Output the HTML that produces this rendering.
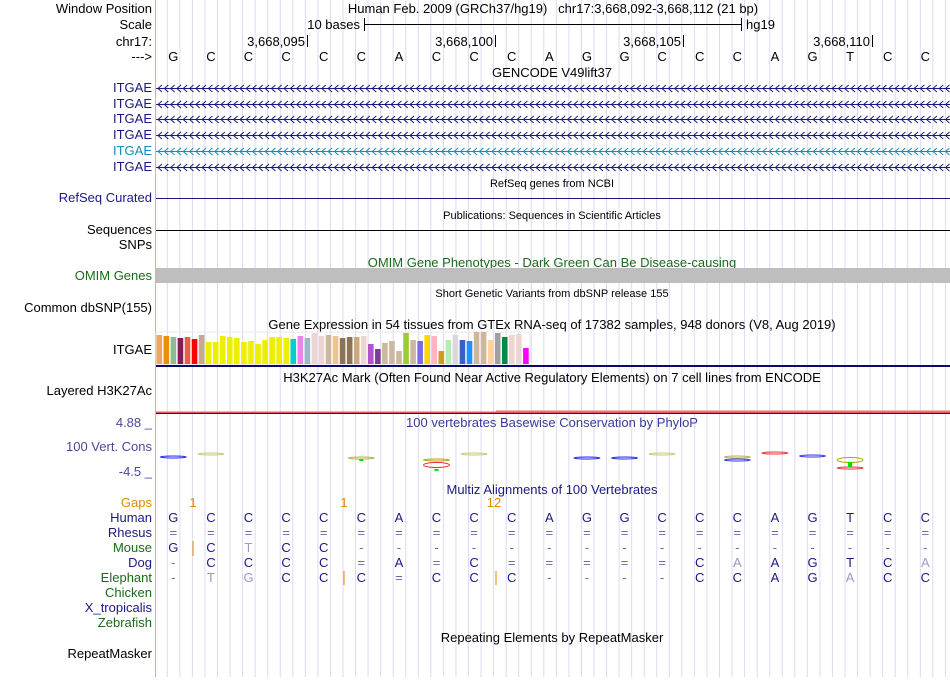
<!DOCTYPE html>
<html><head><meta charset="utf-8">
<style>
body{margin:0;background:#fff;width:950px;height:677px;overflow:hidden;font-family:"Liberation Sans",sans-serif;}
svg text{font-family:"Liberation Sans",sans-serif;}
</style></head>
<body>
<svg id="c" width="950" height="677" xmlns="http://www.w3.org/2000/svg">
<g id="grid"></g>
<line x1="155.5" y1="0" x2="155.5" y2="677" stroke="#f4a0a0"/>
<g id="labels" font-size="13" text-anchor="end"></g>
<g id="main"></g>
</svg>
<script>
const NS='http://www.w3.org/2000/svg';
const G=document.getElementById('grid'),L=document.getElementById('labels'),M=document.getElementById('main');
function mk(p,tag,attrs,txt){const e=document.createElementNS(NS,tag);for(const k in attrs)e.setAttribute(k,attrs[k]);if(txt!==undefined)e.textContent=txt;p.appendChild(e);return e;}
for(let x=167.3;x<950;x+=12.55){const l=mk(G,'line',{x1:x,x2:x,y1:0,y2:677,stroke:'#dcdaf2'});

}
const bx=i=>154.5+37.6*(i+0.5);
const labs=[["Window Position",13,"#000"],["Scale",29,"#000"],["chr17:",46,"#000"],["--->",61,"#000"],
["ITGAE",92,"#1a1a80"],["ITGAE",108,"#1a1a80"],["ITGAE",123,"#1a1a80"],["ITGAE",139,"#1a1a80"],["ITGAE",155,"#1a8ab8"],["ITGAE",171,"#1a1a80"],
["RefSeq Curated",202,"#1a1a80"],["Sequences",234,"#000"],["SNPs",249,"#000"],["OMIM Genes",280,"#1a6a1a"],["Common dbSNP(155)",312,"#000"],
["ITGAE",354,"#000"],["Layered H3K27Ac",395,"#000"],["4.88 _",427,"#4a4a9a"],["100 Vert. Cons",451,"#4a4a9a"],["-4.5 _",476,"#4a4a9a"],
["Gaps",507,"#e08a00"],["Human",522,"#1a1a80"],["Rhesus",537,"#1a1a80"],["Mouse",552,"#1a6a1a"],["Dog",567,"#1a1a80"],["Elephant",582,"#1a6a1a"],
["Chicken",597,"#1a6a1a"],["X_tropicalis",612,"#1a1a80"],["Zebrafish",627,"#1a6a1a"],["RepeatMasker",658,"#000"]];
labs.forEach(([t,y,c])=>{const e=mk(L,'text',{x:152,y:y,fill:c},t);

});
function title(t,x,y,fs,c){const e=mk(M,'text',{x:x,y:y,'font-size':fs,fill:c||'#000','text-anchor':'middle'},t);

return e;}
const ht=title('Human Feb. 2009 (GRCh37/hg19)   chr17:3,668,092-3,668,112 (21 bp)',553,13,13);ht.setAttribute('xml:space','preserve');ht.style.whiteSpace='pre';
mk(M,'text',{x:360,y:29,'font-size':13,'text-anchor':'end'},'10 bases');
mk(M,'line',{x1:364.5,x2:741.5,y1:24.5,y2:24.5,stroke:'#000'});
mk(M,'line',{x1:364.5,x2:364.5,y1:18,y2:31,stroke:'#000'});
mk(M,'line',{x1:741.5,x2:741.5,y1:18,y2:31,stroke:'#000'});
mk(M,'text',{x:746,y:29,'font-size':13},'hg19');
[["3,668,095",307],["3,668,100",495],["3,668,105",683],["3,668,110",872]].forEach(([t,x])=>{
mk(M,'text',{x:x-2,y:46,'font-size':13,'text-anchor':'end'},t);mk(M,'line',{x1:x+.5,x2:x+.5,y1:35,y2:47,stroke:'#000'});});
const human=['G','C','C','C','C','C','A','C','C','C','A','G','G','C','C','C','A','G','T','C','C'];
human.forEach((b,i)=>{const e=mk(M,'text',{x:bx(i),y:61,'font-size':13,'text-anchor':'middle'},b);

});
title('GENCODE V49lift37',552,77,13);
[88,104,119,135,151,167].forEach((y,k)=>{const c=k==4?'#1a8ab8':'#1a1a80';
const g=mk(M,'g',{});
mk(g,'line',{x1:156,x2:950,y1:y+.5,y2:y+.5,stroke:c});
let d='';for(let x=158;x<950;x+=6.3){d+=`M${x+4},${y-3} L${x},${y+.5} L${x+4},${y+4} `;}
mk(g,'path',{d:d,stroke:c,fill:'none','stroke-width':1});});
title('RefSeq genes from NCBI',552,187,11);
mk(M,'line',{x1:156,x2:950,y1:198.5,y2:198.5,stroke:'#1a1a80'});
title('Publications: Sequences in Scientific Articles',552,219,11);
mk(M,'line',{x1:156,x2:950,y1:230.5,y2:230.5,stroke:'#000'});
title('OMIM Gene Phenotypes - Dark Green Can Be Disease-causing',552,267,13,'#1a6a1a');
mk(M,'rect',{x:156,y:268,width:794,height:15,fill:'#bebebe'});
title('Short Genetic Variants from dbSNP release 155',552,297,11);
title('Gene Expression in 54 tissues from GTEx RNA-seq of 17382 samples, 948 donors (V8, Aug 2019)',552,329,13);
const gtexVals=[29,28,27,26,27,25,29,22,22,28,27,26,22,23,20,24,27,27,26,25,28,26,31,28,29,28,26,27,27,28,20,15,21,23,13,31,24,23,29,28,13,24,29,24,23,32,32,24,31,27,29,30,16];
const gtexColors=['#f4a460','#e8900c','#8fbc8f','#8b1a5a','#e8604c','#ff0000','#c8aa8c','#eeee00','#eeee00','#eeee00','#eeee00','#eeee00','#eeee00','#eeee00','#eeee00','#eeee00','#eeee00','#eeee00','#eeee00','#00cdcd','#ee82ee','#9ab8c8','#eed5d2','#eed5d2','#cdb79e','#eec591','#8b7355','#8b7355','#cdaa7d','#eed5d2','#b452cd','#7d3c98','#cdb79e','#cdb79e','#cdb79e','#9acd32','#cdb79e','#7b68ee','#ffd700','#ffb6c1','#cd9b1d','#b4eeb4','#d9d9d9','#3a5fcd','#1e90ff','#cdb79e','#cdb79e','#ffd39b','#a0a0a0','#008b45','#eed5d2','#eed5d2','#ff00ff'];
const base=364;
mk(M,'rect',{x:156,y:332,width:374,height:32,fill:'none',stroke:'#e8e8e8'});
gtexVals.forEach((v,i)=>{const r=mk(M,'rect',{x:156.5+i*7.05,y:base-v,width:5.6,height:v,fill:gtexColors[i]});

});
mk(M,'rect',{x:156,y:365,width:794,height:2,fill:'#0a0a6a'});
title('H3K27Ac Mark (Often Found Near Active Regulatory Elements) on 7 cell lines from ENCODE',552,382,13);
mk(M,'rect',{x:156,y:411.5,width:794,height:1.5,fill:'#e85a5a'});
mk(M,'rect',{x:496,y:410.5,width:454,height:1.5,fill:'#f07070'});
mk(M,'line',{x1:156,x2:950,y1:413.5,y2:413.5,stroke:'#222'});
title('100 vertebrates Basewise Conservation by PhyloP',552,427,13,'#3a3a9a');
const consBase=[0,1,5,7,7,8,11,12,13,15,15,16,17,18,18];
const consY=[457,454,458,460,465,454,458,458,454,457,460,453,456,460,468];
const consCol=['#2020ee','#c8c870','#b0b040','#aaaa00','#ee3030','#c8c870','#2020ee','#2020ee','#c8c870','#b0b050','#3030ee','#ee3030','#3030ee','#aaaa00','#ee3030'];
consBase.forEach((b,i)=>{const e=mk(M,'ellipse',{cx:bx(b),cy:consY[i],rx:13,ry:(i==4||i==13)?2.5:1,fill:'none',stroke:consCol[i],'stroke-width':1});

});
mk(M,'rect',{x:bx(18)-2,y:462,width:4,height:5,fill:'#00dd00'});
mk(M,'rect',{x:bx(7)-2,y:469,width:4,height:2,fill:'#00dd00'});
mk(M,'rect',{x:bx(5)-2,y:459,width:4,height:2,fill:'#00dd00'});
title('Multiz Alignments of 100 Vertebrates',552,494,13,'#1a1a80');
[["1",193],["1",344],["12",494]].forEach(([t,x])=>mk(M,'text',{x:x,y:507,'font-size':13,fill:'#e08a00','text-anchor':'middle'},t));
const rhesus=Array(21).fill('=');
const mouse=['G','C','T','C','C','-','-','-','-','-','-','-','-','-','-','-','-','-','-','-','-'];
const dog=['-','C','C','C','C','=','A','=','C','=','=','=','=','=','C','A','A','G','T','C','A'];
const elephant=['-','T','G','C','C','C','=','C','C','C','-','-','-','-','C','C','A','G','A','C','C'];
const light={mouse:[2],dog:[15,20],elephant:[1,2,18]};
function row(arr,y,key){arr.forEach((b,i)=>{let c='#1a1a80';if(b=='='||b=='-')c='#6a6aaa';if(key&&light[key].includes(i))c='#9a9ac8';
const e=mk(M,'text',{x:bx(i),y:y,'font-size':13,'text-anchor':'middle',fill:c},b);

});}
row(human,522);row(rhesus,537);row(mouse,552,'mouse');row(dog,567,'dog');row(elephant,582,'elephant');
[[193,541,556],[344,571,585],[496,571,585]].forEach(([x,a,b])=>mk(M,'line',{x1:x,x2:x,y1:a,y2:b,stroke:'#e08a00','stroke-width':1}));
title('Repeating Elements by RepeatMasker',552,642,13);
</script>
</body></html>
